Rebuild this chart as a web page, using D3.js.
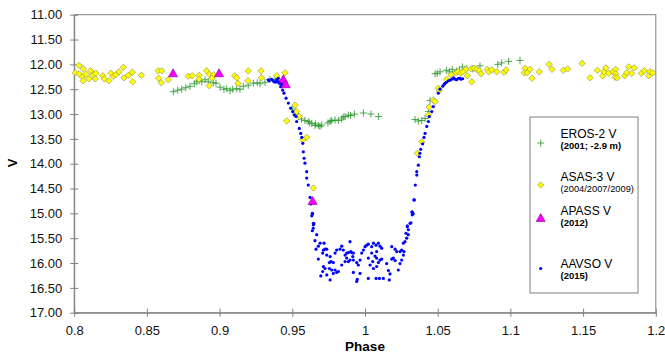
<!DOCTYPE html>
<html>
<head>
<meta charset="utf-8">
<script src="https://cdn.jsdelivr.net/npm/d3@7"></script>
<style>
    body { margin: 0; background: #fff; }
    svg { display: block; font-family: "Liberation Sans", Arial, sans-serif; }
    .axis path, .axis line { stroke: #808080; }
    .axis text { fill: #111; font-size: 13px; font-family: "Liberation Sans", Arial, sans-serif; }
</style>
</head>
<body>
<svg id="chart" width="665" height="352"></svg>
<script>
// [phase, V mag]
const erosV = [
    [0.8682, 12.55], [0.8712, 12.52], [0.8739, 12.50], [0.8767, 12.47], [0.8796, 12.44],
    [0.8826, 12.39], [0.8843, 12.35], [0.8860, 12.33], [0.8877, 12.35], [0.8900, 12.31],
    [0.8922, 12.35], [0.8957, 12.37], [0.8975, 12.38], [0.9003, 12.46], [0.9030, 12.50],
    [0.9049, 12.49], [0.9072, 12.53], [0.9090, 12.50], [0.9118, 12.49], [0.9140, 12.50],
    [0.9163, 12.44], [0.9197, 12.42], [0.9232, 12.38], [0.9259, 12.37], [0.9278, 12.39],
    [0.9312, 12.36], [0.9347, 12.30], [0.9381, 12.30], [0.9416, 12.36],
    [0.9500, 12.90], [0.9520, 13.00], [0.9541, 13.05], [0.9563, 13.10], [0.9587, 13.13],
    [0.9610, 13.15], [0.9620, 13.18], [0.9634, 13.19], [0.9656, 13.23], [0.9660, 13.20],
    [0.9679, 13.23], [0.9690, 13.25], [0.9702, 13.22], [0.9745, 13.18], [0.9760, 13.15],
    [0.9771, 13.13], [0.9794, 13.12], [0.9817, 13.13], [0.9840, 13.10], [0.9850, 13.06],
    [0.9863, 13.05], [0.9885, 13.02], [0.9900, 13.03], [0.9927, 13.00], [0.9989, 12.98],
    [1.0041, 13.00], [1.0092, 13.05],
    [1.0344, 13.11], [1.0367, 13.14], [1.0390, 13.13], [1.0413, 13.09], [1.0436, 12.95],
    [1.0447, 12.73], [1.0470, 12.72], [1.0482, 12.19], [1.0497, 12.18], [1.0516, 12.15],
    [1.0560, 12.12], [1.0580, 12.15], [1.0600, 12.10], [1.0631, 12.13], [1.0650, 12.12],
    [1.0669, 12.05], [1.0700, 12.08], [1.0741, 12.09], [1.0791, 12.03], [1.0913, 12.00],
    [1.0940, 11.97], [1.0988, 11.94], [1.1066, 11.92]
];

const asasV = [
    [0.8033, 12.02], [0.8008, 12.17], [0.8035, 12.19], [0.8063, 12.09], [0.8056, 12.25],
    [0.8081, 12.20], [0.8061, 12.33], [0.8113, 12.13], [0.8102, 12.29], [0.8131, 12.21],
    [0.8150, 12.18], [0.8145, 12.29], [0.8196, 12.23], [0.8207, 12.29], [0.8239, 12.33],
    [0.8253, 12.18], [0.8269, 12.24], [0.8285, 12.21], [0.8308, 12.15], [0.8338, 12.06],
    [0.8343, 12.27], [0.8372, 12.22], [0.8400, 12.16], [0.8402, 12.35], [0.8462, 12.22],
    [0.8578, 12.13], [0.8602, 12.13], [0.8581, 12.28], [0.8599, 12.37], [0.8647, 12.31],
    [0.8785, 12.24], [0.8812, 12.23], [0.8860, 12.22], [0.8858, 12.30], [0.8911, 12.13],
    [0.8929, 12.20], [0.8957, 12.21], [0.8948, 12.28], [0.8929, 12.43], [0.9104, 12.23],
    [0.9118, 12.27], [0.9127, 12.38], [0.9197, 12.13], [0.9195, 12.33], [0.9285, 12.13],
    [0.9287, 12.27], [0.9393, 12.23], [0.9450, 12.17],
    [0.9519, 12.82], [0.9530, 12.95], [0.9548, 13.05], [0.9462, 13.14], [0.9599, 13.47],
    [0.9572, 13.52], [0.9645, 14.49],
    [1.0390, 13.56], [1.0360, 13.79], [1.0442, 12.86], [1.0470, 12.72], [1.0482, 12.75],
    [1.0436, 13.02], [1.0504, 12.48], [1.0511, 12.53],
    [1.0562, 12.30], [1.0592, 12.21], [1.0626, 12.17], [1.0642, 12.15], [1.0658, 12.18],
    [1.0672, 12.15], [1.0695, 12.10], [1.0704, 12.23], [1.0731, 12.09], [1.0750, 12.08],
    [1.0768, 12.10], [1.0786, 12.13], [1.0798, 12.19], [1.0734, 12.35], [1.0841, 12.10],
    [1.0851, 12.15], [1.0872, 12.11], [1.0906, 12.15], [1.0956, 12.16], [1.0970, 12.11],
    [1.1101, 12.08], [1.1096, 12.17], [1.1116, 12.17], [1.1135, 12.10], [1.1149, 12.28],
    [1.1199, 12.15], [1.1266, 12.00], [1.1286, 12.10], [1.1364, 12.12], [1.1394, 12.09],
    [1.1493, 11.98], [1.1548, 12.27], [1.1598, 12.12], [1.1635, 12.23], [1.1644, 12.15],
    [1.1656, 12.07], [1.1676, 12.18], [1.1706, 12.15], [1.1724, 12.10], [1.1724, 12.19],
    [1.1720, 12.26], [1.1735, 12.27], [1.1786, 12.23], [1.1800, 12.17], [1.1814, 12.05],
    [1.1834, 12.18], [1.1852, 12.07], [1.1901, 12.18], [1.1921, 12.13], [1.1951, 12.23],
    [1.1960, 12.15], [1.1979, 12.17]
];

const apassV = [
    [0.8680, 12.18], [0.8996, 12.18], [0.9438, 12.30], [0.9455, 12.40], [0.9640, 14.75]
];

const aavsoV = [
    [0.9335, 12.31], [0.9340, 12.33], [0.9358, 12.30], [0.9365, 12.32], [0.9374, 12.35],
    [0.9385, 12.36], [0.9393, 12.31], [0.9398, 12.34], [0.9404, 12.28], [0.9410, 12.38],
    [0.9416, 12.35], [0.9420, 12.45], [0.9428, 12.40], [0.9434, 12.52], [0.9443, 12.58],
    [0.9457, 12.68], [0.9473, 12.78], [0.9489, 12.88], [0.9503, 12.95], [0.9514, 13.02],
    [0.9526, 13.05], [0.9530, 13.15], [0.9548, 13.29], [0.9558, 13.39], [0.9565, 13.47],
    [0.9572, 13.59], [0.9576, 13.76], [0.9581, 13.89], [0.9587, 13.99], [0.9599, 14.16],
    [0.9599, 14.29], [0.9610, 14.43], [0.9622, 14.68], [0.9627, 14.81], [0.9638, 15.00],
    [0.9634, 15.05], [0.9649, 15.21], [0.9644, 15.30],
    [0.9640, 15.01], [0.9645, 15.20], [0.9645, 15.23], [0.9638, 15.35], [0.9668, 15.43],
    [0.9656, 15.55], [0.9663, 15.72], [0.9679, 15.66], [0.9691, 15.60], [0.9718, 15.60],
    [0.9725, 15.72], [0.9714, 15.74], [0.9737, 15.72], [0.9709, 15.80], [0.9737, 15.84],
    [0.9760, 15.87], [0.9679, 15.92], [0.9714, 16.07], [0.9709, 16.17], [0.9725, 16.11],
    [0.9755, 15.99], [0.9766, 15.97], [0.9782, 15.99], [0.9755, 16.11], [0.9771, 16.14],
    [0.9794, 16.14], [0.9782, 16.21], [0.9805, 16.19], [0.9817, 16.17], [0.9794, 15.80],
    [0.9805, 15.74], [0.9828, 15.72], [0.9840, 15.66], [0.9851, 15.74], [0.9863, 15.84],
    [0.9874, 15.80], [0.9886, 15.79], [0.9897, 15.57], [0.9902, 15.77], [0.9909, 15.79],
    [0.9920, 15.80], [0.9916, 15.87], [0.9874, 15.90], [0.9886, 15.97], [0.9897, 15.94],
    [0.9863, 15.97], [0.9840, 16.04], [0.9920, 15.94], [0.9943, 15.99], [0.9954, 16.04],
    [0.9966, 15.94], [0.9977, 15.80], [0.9989, 15.74], [1.0000, 15.67], [1.0012, 15.64],
    [1.0023, 15.62], [1.0046, 15.67], [1.0058, 15.60], [1.0076, 15.64], [1.0092, 15.60],
    [1.0103, 15.66], [1.0115, 15.70], [1.0046, 15.80], [1.0069, 15.86], [1.0080, 15.77],
    [1.0023, 15.90], [1.0035, 16.04], [1.0053, 15.97], [1.0058, 16.11], [1.0080, 16.07],
    [1.0092, 15.99], [1.0103, 15.94], [1.0080, 15.90], [1.0115, 15.92], [0.9920, 16.19],
    [0.9966, 16.21], [0.9947, 16.33], [0.9943, 16.37], [1.0023, 16.31], [1.0076, 16.31],
    [1.0099, 16.31], [1.0126, 16.31], [1.0161, 16.15], [1.0172, 16.22], [1.0167, 16.34],
    [1.0149, 16.01], [1.0184, 15.92], [1.0195, 15.90], [1.0207, 15.95], [1.0184, 15.67],
    [1.0207, 15.72], [1.0218, 15.77], [1.0241, 15.77], [1.0252, 15.74], [1.0264, 15.60],
    [1.0275, 15.57], [1.0287, 15.50], [1.0298, 15.43], [1.0298, 15.33], [1.0291, 15.25],
    [1.0316, 15.19], [1.0325, 14.98], [1.0332, 15.01], [1.0339, 14.73], [1.0229, 16.14],
    [1.0252, 15.94], [1.0241, 16.01], [1.0264, 15.84], [1.0268, 15.77], [1.0282, 15.40],
    [0.9696, 16.26], [0.9737, 16.24], [0.9760, 16.34],
    [1.0310, 15.20], [1.0291, 15.27], [1.0325, 15.03], [1.0323, 14.97], [1.0337, 14.73],
    [1.0346, 14.43], [1.0356, 14.23], [1.0356, 14.16], [1.0367, 14.03], [1.0374, 13.86],
    [1.0378, 13.79], [1.0383, 13.71], [1.0397, 13.60], [1.0406, 13.47], [1.0413, 13.39],
    [1.0425, 13.25], [1.0436, 13.15], [1.0442, 13.05], [1.0459, 12.95], [1.0470, 12.85],
    [1.0504, 12.58], [1.0516, 12.50], [1.0535, 12.44], [1.0545, 12.40], [1.0550, 12.38],
    [1.0560, 12.36], [1.0573, 12.33], [1.0585, 12.32], [1.0596, 12.30], [1.0610, 12.27],
    [1.0619, 12.30], [1.0630, 12.31], [1.0642, 12.28], [1.0654, 12.28], [1.0660, 12.30],
    [1.0672, 12.29]
];

const xTicks = [0.8, 0.85, 0.9, 0.95, 1, 1.05, 1.1, 1.15, 1.2];
const yTicks = [11, 11.5, 12, 12.5, 13, 13.5, 14, 14.5, 15, 15.5, 16, 16.5, 17];

const legendItems = [
    { id: 'eros', label: 'EROS-2 V', sub: '(2001; -2.9 m)', subWeight: 'bold', subSize: 9.5 },
    { id: 'asas', label: 'ASAS-3 V', sub: '(2004/2007/2009)', subWeight: 'normal', subSize: 9.3 },
    { id: 'apass', label: 'APASS V', sub: '(2012)', subWeight: 'bold', subSize: 9.5 },
    { id: 'aavso', label: 'AAVSO V', sub: '(2015)', subWeight: 'bold', subSize: 9.5 }
];

const svg = d3.select('#chart');
const plot = { left: 74.2, right: 655.8, top: 14.7, bottom: 312.7 };

const x = d3.scaleLinear().domain([0.8, 1.2]).range([plot.left, plot.right]);
const y = d3.scaleLinear().domain([11, 17]).range([plot.top, plot.bottom]);

// plot frame
svg.append('rect')
    .attr('x', plot.left)
    .attr('y', plot.top)
    .attr('width', plot.right - plot.left)
    .attr('height', plot.bottom - plot.top)
    .attr('fill', 'none')
    .attr('stroke', '#808080');

const yAxis = svg.append('g')
    .attr('class', 'axis')
    .attr('transform', `translate(${plot.left},0)`)
    .call(d3.axisLeft(y)
        .tickValues(yTicks)
        .tickFormat(d3.format('.2f'))
        .tickSizeInner(4)
        .tickSizeOuter(0)
        .tickPadding(8));

const xAxis = svg.append('g')
    .attr('class', 'axis')
    .attr('transform', `translate(0,${plot.bottom})`)
    .call(d3.axisBottom(x)
        .tickValues(xTicks)
        .tickFormat(d => String(d))
        .tickSizeInner(4)
        .tickSizeOuter(0)
        .tickPadding(9));

// excel style ticks cross the axis
yAxis.selectAll('.tick line').attr('x1', 4);
xAxis.selectAll('.tick line').attr('y1', -4);

svg.append('text')
    .attr('transform', 'translate(17,163) rotate(-90)')
    .attr('text-anchor', 'middle')
    .attr('font-size', 13)
    .attr('font-weight', 'bold')
    .text('V');

svg.append('text')
    .attr('x', 365)
    .attr('y', 350.5)
    .attr('text-anchor', 'middle')
    .attr('font-size', 13.5)
    .attr('font-weight', 'bold')
    .text('Phase');

// marker shapes
const plusPath = 'M-3.5,0H3.5M0,-3.5V3.5';
const diamondPath = 'M0,-3.2L3.2,0L0,3.2L-3.2,0Z';
const trianglePath = 'M0,-4.5L4.5,3.5L-4.5,3.5Z';

function drawPlus(g) {
    g.attr('d', plusPath)
        .attr('fill', 'none')
        .attr('stroke', '#2f9a2f')
        .attr('stroke-width', 1)
        .attr('opacity', 0.85);
}

function drawDiamond(g) {
    g.attr('d', diamondPath)
        .attr('fill', '#ffff00')
        .attr('stroke', '#8a8a5a')
        .attr('stroke-width', 0.6);
}

function drawTriangle(g) {
    g.attr('d', trianglePath)
        .attr('fill', '#ff00ff')
        .attr('stroke', '#800080')
        .attr('stroke-width', 0.6);
}

const marks = svg.append('g');

marks.append('g')
    .selectAll('path')
    .data(erosV)
    .join('path')
    .attr('transform', d => `translate(${x(d[0])},${y(d[1])})`)
    .call(drawPlus);

marks.append('g')
    .selectAll('path')
    .data(asasV)
    .join('path')
    .attr('transform', d => `translate(${x(d[0])},${y(d[1])})`)
    .call(drawDiamond);

marks.append('g')
    .selectAll('circle')
    .data(aavsoV)
    .join('circle')
    .attr('cx', d => x(d[0]))
    .attr('cy', d => y(d[1]))
    .attr('r', 1.6)
    .attr('fill', '#0000ff');

marks.append('g')
    .selectAll('path')
    .data(apassV)
    .join('path')
    .attr('transform', d => `translate(${x(d[0])},${y(d[1])})`)
    .call(drawTriangle);

// legend
const legend = svg.append('g');

legend.append('rect')
    .attr('x', 530)
    .attr('y', 117)
    .attr('width', 108)
    .attr('height', 176)
    .attr('fill', '#fff')
    .attr('stroke', '#808080');

const rowY = [138, 181, 215, 268];

const rows = legend.selectAll('.row')
    .data(legendItems)
    .join('g')
    .attr('class', 'row')
    .attr('transform', (d, i) => `translate(0,${rowY[i]})`);

rows.append('text')
    .attr('x', 560.5)
    .attr('y', 0)
    .attr('font-size', 12)
    .text(d => d.label);

rows.append('text')
    .attr('x', 560.5)
    .attr('y', 10.5)
    .attr('font-size', d => d.subSize)
    .attr('font-weight', d => d.subWeight)
    .text(d => d.sub);

rows.each(function (d) {
    const row = d3.select(this);
    if (d.id === 'eros') {
        row.append('path').attr('transform', 'translate(540.7,5)').call(drawPlus);
    } else if (d.id === 'asas') {
        row.append('path').attr('transform', 'translate(540.7,4)').call(drawDiamond);
    } else if (d.id === 'apass') {
        row.append('path').attr('transform', 'translate(540.7,3)').call(drawTriangle);
    } else {
        row.append('circle').attr('cx', 540.7).attr('cy', 0.5).attr('r', 1.6).attr('fill', '#0000ff');
    }
});
</script>
</body>
</html>
